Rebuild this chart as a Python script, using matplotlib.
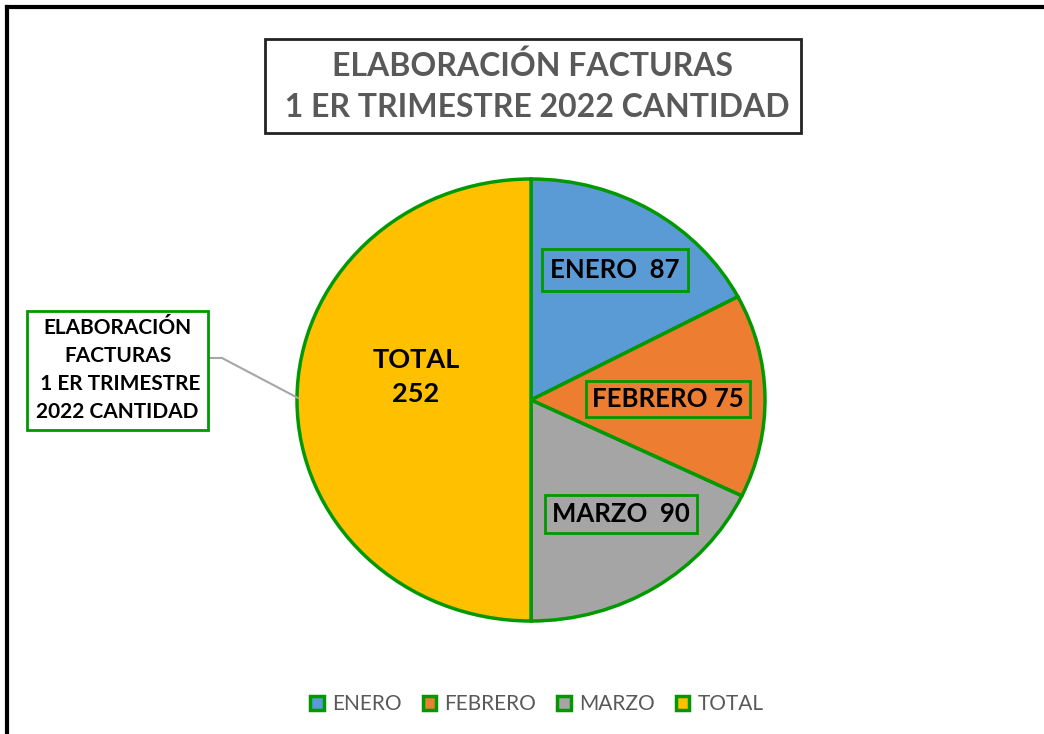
import matplotlib
matplotlib.use("Agg")
import matplotlib.pyplot as plt
from matplotlib.lines import Line2D

categories = ["ENERO", "FEBRERO", "MARZO", "TOTAL"]
values = [87, 75, 90, 252]
colors = ["#5B9BD5", "#ED7D31", "#A5A5A5", "#FFC000"]
title_text = "ELABORACIÓN FACTURAS\n 1 ER TRIMESTRE 2022 CANTIDAD"
series_name = "ELABORACIÓN\nFACTURAS\n 1 ER TRIMESTRE\n2022 CANTIDAD"

W, H = 1044, 734
GREEN = "#009900"
plt.rcParams['font.family'] = ['Lato', 'DejaVu Sans']

fig = plt.figure(figsize=(W / 100, H / 100), dpi=100)
fig.patch.set_facecolor("white")

def fx(x):
    return x / W

def fy(y):
    return 1 - y / H

# outer border (top and left)
fig.add_artist(Line2D([fx(7), fx(7)], [fy(7), 0], color="black", lw=3, transform=fig.transFigure))
fig.add_artist(Line2D([fx(7), 1], [fy(7), fy(7)], color="black", lw=3, transform=fig.transFigure))

# pie axes: center (531,400), rx 234, ry 221; limits -1.2..1.2
cx, cy, rx, ry = 531, 400, 234, 221
m = 1.2
ax = fig.add_axes([fx(cx - rx * m), fy(cy + ry * m), 2 * rx * m / W, 2 * ry * m / H])
wedges, _ = ax.pie(values, colors=colors, startangle=90, counterclock=False,
                   wedgeprops=dict(edgecolor=GREEN, linewidth=2.5))
ax.set_aspect("auto")
ax.set_xlim(-m, m)
ax.set_ylim(-m, m)
ax.axis("off")

# data labels
lab_kw = dict(fontsize=18.5, fontweight="bold", color="black", ha="center", va="center")
fig.text(fx(615), fy(270), f"{categories[0]}  {values[0]}",
         bbox=dict(boxstyle="square,pad=0.34", fc=colors[0], ec=GREEN, lw=2), **lab_kw)
fig.text(fx(668), fy(399), f"{categories[1]} {values[1]}",
         bbox=dict(boxstyle="square,pad=0.24", fc=colors[1], ec=GREEN, lw=2), **lab_kw)
fig.text(fx(621), fy(514), f"{categories[2]}  {values[2]}",
         bbox=dict(boxstyle="square,pad=0.29", fc=colors[2], ec=GREEN, lw=2), **lab_kw)
fig.text(fx(416), fy(377), f"{categories[3]}\n{values[3]}", linespacing=1.55,
         **{**lab_kw, "fontsize": 19.5})

# title
fig.text(fx(533), fy(86), title_text, fontsize=23, fontweight="bold", color="#595959",
         ha="center", va="center", linespacing=1.5,
         bbox=dict(boxstyle="square,pad=0.36", fc="white", ec="#222222", lw=2))

# series name callout
fig.add_artist(Line2D([fx(209), fx(222), fx(298)], [fy(358), fy(358), fy(398)],
                      color="#A6A6A6", lw=1.5, transform=fig.transFigure))
fig.text(fx(117.5), fy(370), series_name, fontsize=15, fontweight="bold", color="black",
         ha="center", va="center", linespacing=1.5,
         bbox=dict(boxstyle="square,pad=0.36", fc="white", ec=GREEN, lw=2))

# legend
leg = fig.legend(wedges, categories, loc="center", bbox_to_anchor=(fx(537), fy(704)),
                 ncol=4, frameon=False, fontsize=15, handlelength=0.65, handleheight=0.65,
                 handletextpad=0.4, columnspacing=1.0)
for t in leg.get_texts():
    t.set_color("#595959")

fig.savefig("out.png", dpi=100, facecolor="white")
